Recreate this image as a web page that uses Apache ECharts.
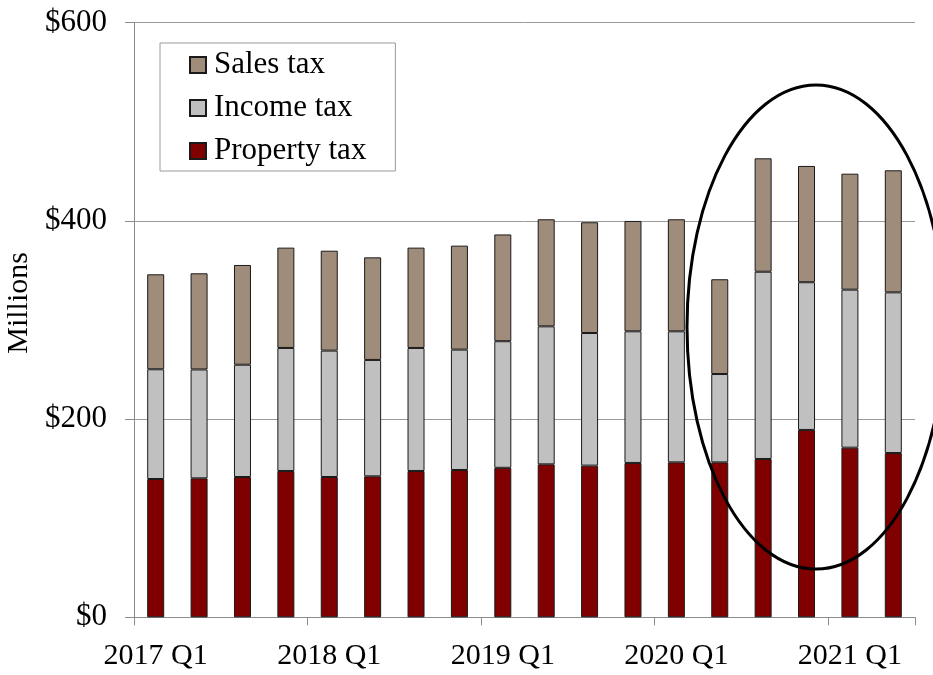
<!DOCTYPE html>
<html>
<head>
<meta charset="utf-8">
<script src="https://cdn.jsdelivr.net/npm/echarts@6/dist/echarts.min.js"></script>
<style>html,body{margin:0;padding:0;background:#fff}#chart{width:933px;height:675px}</style>
</head>
<body>
<div id="chart"></div>
<script>
const categories = ['2017 Q1','2017 Q2','2017 Q3','2017 Q4','2018 Q1','2018 Q2','2018 Q3','2018 Q4','2019 Q1','2019 Q2','2019 Q3','2019 Q4','2020 Q1','2020 Q2','2020 Q3','2020 Q4','2021 Q1','2021 Q2'];
const propertyTax = [139.5,140.2,141.5,147.6,141.5,142.2,147.6,148.6,150.8,154.3,153.0,155.7,156.3,156.3,159.7,189.0,171.1,165.7];
const incomeTax = [110.7,109.8,113.3,124.1,127.5,117.4,124.1,121.4,127.7,139.2,133.8,132.8,132.2,89.1,188.9,149.0,159.4,162.1];
const salesTax = [95.8,97.0,100.6,101.2,100.8,103.5,101.2,104.9,107.7,108.0,111.7,111.3,113.0,95.6,114.4,117.3,117.0,123.1];
const yTicks = [0, 200, 400, 600];

const font = 'Liberation Serif';
const chart = echarts.init(document.getElementById('chart'));
const barCommon = {
  type: 'bar', stack: 'total', barWidth: 17,
  emphasis: {disabled: true}
};
chart.setOption({
  animation: false,
  textStyle: {fontFamily: font, color: '#000'},
  grid: {left: 134, right: 18, top: 22.5, bottom: 57.7, containLabel: false, outerBoundsMode: 'none'},
  legend: {
    orient: 'vertical', left: 160, top: 43,
    data: ['Sales tax', 'Income tax', 'Property tax'],
    itemWidth: 16, itemHeight: 16, itemGap: 9, icon: 'rect',
    padding: [5, 29, 3, 29],
    borderColor: '#9a9a9a', borderWidth: 1,
    textStyle: {fontFamily: font, fontSize: 31, color: '#000', lineHeight: 34, padding: [0,0,0,3]},
    selectedMode: false
  },
  xAxis: {
    type: 'category', data: categories, boundaryGap: true,
    axisLine: {lineStyle: {color: '#8c8c8c', width: 1}},
    axisTick: {show: true, interval: (i) => i % 4 === 0, length: 8, lineStyle: {color: '#8c8c8c'}},
    axisLabel: {interval: (i) => i % 4 === 0, fontSize: 30, fontFamily: font, color: '#000', margin: 24}
  },
  yAxis: {
    type: 'value', min: 0, max: 600, interval: 200,
    name: 'Millions', nameLocation: 'middle', nameGap: 93, nameRotate: 90,
    nameTextStyle: {fontFamily: font, fontSize: 30, color: '#000', padding: [0, 0, 0, 34]},
    axisLine: {show: true, lineStyle: {color: '#8c8c8c', width: 1}},
    axisTick: {show: true, length: 9, lineStyle: {color: '#8c8c8c'}},
    splitLine: {show: true, lineStyle: {color: '#9a9a9a', width: 1}},
    axisLabel: {fontSize: 31, fontFamily: font, color: '#000', margin: 27,
      formatter: (v) => yTicks.includes(v) ? '$' + v : ''}
  },
  series: [
    Object.assign({}, barCommon, {name: 'Property tax', data: propertyTax,
      itemStyle: {color: '#800000', borderColor: '#1a1a1a', borderWidth: 1}}),
    Object.assign({}, barCommon, {name: 'Income tax', data: incomeTax,
      itemStyle: {color: '#c0c0c0', borderColor: '#1a1a1a', borderWidth: 1}}),
    Object.assign({}, barCommon, {name: 'Sales tax', data: salesTax,
      itemStyle: {color: '#a08c7a', borderColor: '#1a1a1a', borderWidth: 1}})
  ],
  graphic: [{
    type: 'ellipse', silent: true, z: 100,
    shape: {cx: 816, cy: 327, rx: 129, ry: 242},
    style: {fill: 'none', stroke: '#000', lineWidth: 3}
  }]
});
</script>
</body>
</html>
